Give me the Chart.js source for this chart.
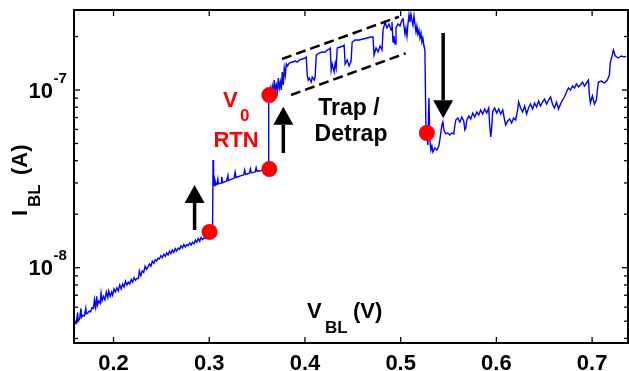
<!DOCTYPE html>
<html><head><meta charset="utf-8">
<script src="https://cdn.jsdelivr.net/npm/chart.js@4/dist/chart.umd.min.js"></script>
<style>html,body{margin:0;padding:0;background:#fff}canvas{display:block}</style>
</head><body>
<canvas id="c" width="629" height="371"></canvas>
<script>
// ---- tick labels ----
const xTicks = [0.2, 0.3, 0.4, 0.5, 0.6, 0.7];
const xTickLabels = ['0.2', '0.3', '0.4', '0.5', '0.6', '0.7'];
const yDecades = [1e-8, 1e-7];
const yDecadeExps = ['-8', '-7'];
const yMinorMantissas = [2, 3, 4, 5, 6, 7, 8, 9];

// ---- measured trace: [V_BL (V), I_BL (nA)] ----
const subthreshold = [
 [0.158,4.6],[0.1595,4.9],[0.161,4.85],[0.1625,5.6],[0.163,5.0],[0.1645,5.15],[0.166,5.9],[0.1665,5.25],
 [0.168,5.4],[0.1695,5.35],[0.171,5.9],[0.1715,5.5],[0.173,5.55],[0.1745,5.7],[0.176,5.65],[0.1775,5.95],
 [0.179,5.9],[0.180,6.6],[0.181,6.0],[0.1825,6.9],[0.183,6.1],[0.1845,6.5],[0.186,6.3],[0.187,7.2],
 [0.188,6.5],[0.1895,6.9],[0.191,6.6],[0.1925,7.3],[0.194,6.8],[0.195,7.4],[0.1965,6.9],[0.198,7.3],
 [0.199,7.0],[0.2005,7.6],[0.202,7.3],[0.2035,7.7],[0.205,7.4],[0.2065,8.0],[0.208,7.6],[0.2095,8.1],
 [0.211,7.8],[0.2125,8.4],[0.214,8.0],[0.2155,8.3],[0.217,8.1],[0.2185,8.6],[0.220,8.3],[0.2215,8.8],
 [0.223,8.5],[0.2245,8.7],[0.226,8.7],[0.227,9.6],[0.2285,9.0],[0.230,9.6],[0.2315,9.4],[0.233,10.2],
 [0.2345,9.8],[0.236,10.1],[0.2375,10.5],[0.239,10.2],[0.2405,10.9],[0.242,10.6],[0.2435,11.1],[0.245,10.9],
 [0.2465,11.3],[0.248,11.2],[0.2495,11.7],[0.251,11.4],[0.2525,11.9],[0.254,11.6],[0.2555,12.1],[0.257,11.8],
 [0.2585,12.4],[0.260,12.0],[0.2615,12.6],[0.263,12.2],[0.2645,12.8],[0.266,12.4],[0.2675,12.9],[0.269,12.7],
 [0.2705,13.3],[0.272,12.9],[0.2735,13.5],[0.275,13.1],[0.2765,13.5],[0.278,13.3],[0.2795,13.8],[0.281,13.4],
 [0.2825,13.9],[0.284,13.6],[0.2855,14.3],[0.287,13.9],[0.2885,14.6],[0.290,14.1],[0.2915,14.8],[0.293,14.4],
 [0.2945,14.7],[0.296,14.6],[0.2975,15.1],[0.299,14.9],[0.3005,15.3],[0.302,15.6],[0.3035,17.0]
];
const afterFirstJump = [
 [0.304,40.4],[0.3045,29.0],[0.305,29.0],[0.306,31.0],[0.307,29.3],[0.308,29.5],[0.309,31.5],[0.3095,29.6],
 [0.311,29.8],[0.3125,30.0],[0.313,32.5],[0.314,30.1],[0.316,30.4],[0.318,30.7],[0.3195,33.0],[0.320,30.9],
 [0.322,31.3],[0.324,31.6],[0.326,31.9],[0.327,34.5],[0.328,32.2],[0.330,32.5],[0.332,32.8],[0.334,33.1],
 [0.336,33.3],[0.337,35.5],[0.338,33.5],[0.340,33.8],[0.342,34.0],[0.343,36.0],[0.344,34.2],[0.346,34.4],
 [0.348,34.6],[0.349,36.5],[0.350,34.8],[0.352,35.0],[0.354,35.2],[0.356,35.4],[0.358,35.5],[0.360,35.6],
 [0.3615,35.7],[0.362,60],[0.3622,92]
];
const rtnRegion = [
 [0.3628,96.2],[0.3638,102.6],[0.3649,93.7],[0.3659,105.3],[0.3670,97.4],[0.3680,113.8],[0.3690,100],[0.3701,106.7],
 [0.3711,97.4],[0.3722,116.8],[0.3732,102.6],[0.3743,110.9],[0.3753,100],[0.3763,126.3],[0.3774,106.7],[0.3784,133.0],
 [0.3795,121.4],[0.3805,140.1],[0.3816,136.5],[0.3836,141.9],[0.3868,143.7],[0.3899,145.6],[0.3920,143.7],[0.3941,147.5],
 [0.3972,149.4],[0.4003,151.4],[0.4013,153.3],[0.4024,121.4],[0.4034,113.8],[0.4045,116.8],[0.4066,110.9],[0.4076,118.3],
 [0.4097,113.8],[0.4107,119.9],[0.4118,157.4],[0.4149,161.5],[0.4180,163.6],[0.4211,163.6],[0.4232,167.9],[0.4253,170.1],
 [0.4264,172.3],[0.4274,129.6],[0.4284,140.1],[0.4305,126.3],[0.4316,141.9],[0.4326,133.0],[0.4337,172.3],[0.4368,174.6],
 [0.4399,176.8],[0.4409,179.1],[0.4420,140.1],[0.4441,147.5],[0.4461,136.5],[0.4482,145.6],[0.4493,186.2],[0.4524,191.1],
 [0.4566,191.1],[0.4607,193.7],[0.4649,196.2],[0.4691,198.7],[0.4711,198.7],[0.4722,157.4],[0.4743,172.3],[0.4764,163.6],
 [0.4784,176.8],[0.4805,167.9],[0.4816,217.6],[0.4837,241.3],[0.4857,223.3],[0.4878,235.1],[0.4899,217.6],[0.4909,241.3],
 [0.4920,186.2],[0.4930,201.3],[0.4941,181.5],[0.4951,223.3],[0.4972,235.1],[0.4993,229.1],[0.5014,247.6],[0.5024,254.1],
 [0.5034,229.1],[0.5045,206.6],[0.5055,223.3],[0.5066,201.3],[0.5076,235.1],[0.5087,264.2],[0.5097,241.3],[0.5107,267.7],
 [0.5118,247.6],[0.5128,232.1],[0.5139,260.8],[0.5149,235.1],[0.5160,212.0],[0.5170,229.1],[0.5180,206.6],[0.5191,217.6],
 [0.5201,196.2],[0.5212,209.3],[0.5222,186.2],[0.5232,196.2],[0.5243,176.8],[0.5253,167.9]
];
const afterDrop = [
 [0.5264,61.1],[0.5274,57.3],[0.5284,49.0],[0.5295,90.2],[0.5305,52.3],[0.5316,45.9],[0.5326,48.4],[0.5336,44.8],
 [0.5357,47.2],[0.5378,45.9],[0.5399,48.4],[0.5409,52.3],[0.5430,63.5],[0.5441,66.1],[0.5451,59.6],[0.5472,56.6],
 [0.5493,57.3],[0.5513,55.8],[0.5534,57.3],[0.5555,56.6],[0.5566,63.5],[0.5576,67.8],[0.5597,69.6],[0.5618,66.1],
 [0.5639,70.5],[0.5659,66.9],[0.5670,59.6],[0.5680,61.1],[0.5691,67.8],[0.5712,71.4],[0.5732,68.7],[0.5753,74.2],
 [0.5774,70.5],[0.5795,75.2],[0.5816,72.3],[0.5836,77.2],[0.5857,73.3],[0.5878,78.2],[0.5899,74.2],[0.5920,79.2],
 [0.5930,63.5],[0.5941,54.4],[0.5951,61.1],[0.5961,75.2],[0.5982,79.2],[0.6003,74.2],[0.6024,78.2],[0.6045,73.3],
 [0.6066,77.2],[0.6086,67.8],[0.6097,63.5],[0.6118,66.9],[0.6139,68.7],[0.6159,65.2],[0.6180,69.6],[0.6201,67.8],
 [0.6222,77.2],[0.6232,85.6],[0.6253,79.2],[0.6274,75.2],[0.6295,81.3],[0.6316,73.3],[0.6336,79.2],[0.6357,83.4],
 [0.6378,78.2],[0.6399,84.5],[0.6420,80.2],[0.6441,86.7],[0.6461,81.3],[0.6482,85.6],[0.6503,89.0],[0.6524,83.4],
 [0.6545,87.8],[0.6566,91.3],[0.6586,83.4],[0.6607,79.2],[0.6628,85.6],[0.6649,78.2],[0.6670,83.4],[0.6691,87.8],
 [0.6711,91.3],[0.6732,97.4],[0.6753,102.6],[0.6774,100],[0.6795,105.3],[0.6816,102.6],[0.6836,108.1],[0.6857,104],
 [0.6878,106.7],[0.6899,110.9],[0.6920,105.3],[0.6941,109.5],[0.6961,113.8],[0.6972,93.7],[0.6982,84.5],[0.7003,92.5],
 [0.7024,83.4],[0.7045,87.8],[0.7055,100],[0.7066,110.9],[0.7097,112.3],[0.7128,109.5],[0.7159,113.8],[0.7180,121.4],
 [0.7191,143.7],[0.7211,157.4],[0.7222,167.9],[0.7243,155.3],[0.7274,151.4],[0.7305,155.3],[0.7336,153.3],[0.7357,155.3]
];

// ---- annotations in data units ----
const markers = [[0.3003,15.9],[0.3628,35.9],[0.3628,93.7],[0.5274,57.3]];   // red dots (V, nA)
const trapUpper = [[0.3760,149.4],[0.4982,258.5]];                          // dashed band (V, nA)
const trapLower = [[0.3854,93.7],[0.5052,160.9]];
const arrows = [[0.2847,16.3,29.2],[0.3774,44.2,80.5],[0.5444,209.3,69.3]];  // V, tail nA, tip nA

const nA = 1e-9;
const toPts = arr => arr.map(p => ({x: p[0], y: p[1] * nA}));
const trace = toPts([...subthreshold, ...afterFirstJump, ...rtnRegion, ...afterDrop]);

const FONT = '"Liberation Sans", Arial, Helvetica, sans-serif';

const deco = {
  id: 'deco',
  afterDraw(chart) {
    const {ctx, chartArea: a, scales: {x, y}} = chart;
    ctx.save();
    const line = (x1, y1, x2, y2) => { ctx.beginPath(); ctx.moveTo(x1, y1); ctx.lineTo(x2, y2); ctx.stroke(); };
    ctx.strokeStyle = '#000'; ctx.fillStyle = '#000';
    // frame
    ctx.lineWidth = 2;
    ctx.strokeRect(a.left, a.top, a.right - a.left, a.bottom - a.top);
    // x ticks and labels
    ctx.lineWidth = 1.3;
    ctx.font = 'bold 22px ' + FONT;
    ctx.textAlign = 'center'; ctx.textBaseline = 'alphabetic';
    xTicks.forEach((v, i) => {
      const px = x.getPixelForValue(v);
      line(px, a.bottom, px, a.bottom - 6);
      line(px, a.top, px, a.top + 6);
      ctx.fillText(xTickLabels[i], px, 370);
    });
    // y ticks
    yDecades.forEach(d => {
      const py = y.getPixelForValue(d);
      line(a.left, py, a.left + 6, py);
      line(a.right, py, a.right - 6, py);
    });
    [1e-9, 1e-8, 1e-7].forEach(d => yMinorMantissas.forEach(m => {
      const v = m * d;
      if (v < y.min || v > y.max) return;
      const py = y.getPixelForValue(v);
      line(a.left, py, a.left + 4, py);
      line(a.right, py, a.right - 4, py);
    }));
    // y labels 10^n
    yDecades.forEach((d, i) => {
      const py = y.getPixelForValue(d);
      ctx.font = 'bold 22px ' + FONT; ctx.textAlign = 'right';
      ctx.fillText('10', 53, py + 7.5);
      ctx.font = 'bold 15px ' + FONT; ctx.textAlign = 'left';
      ctx.fillText(yDecadeExps[i], 53.5, py - 7.5);
    });
    // x title
    ctx.textAlign = 'left';
    ctx.font = 'bold 22px ' + FONT; ctx.fillText('V', 307, 318);
    ctx.font = 'bold 17px ' + FONT; ctx.fillText('BL', 325, 333);
    ctx.font = 'bold 22px ' + FONT; ctx.fillText('(V)', 353, 318);
    // y title
    ctx.save();
    ctx.translate(27, 216); ctx.rotate(-Math.PI / 2);
    ctx.font = 'bold 22px ' + FONT; ctx.fillText('I', 0, 0);
    ctx.font = 'bold 17px ' + FONT; ctx.fillText('BL', 9, 13);
    ctx.font = 'bold 22px ' + FONT; ctx.fillText('(A)', 41, 0);
    ctx.restore();
    // arrows
    arrows.forEach(([v, from, to]) => {
      const px = x.getPixelForValue(v);
      const p1 = y.getPixelForValue(from * nA), p2 = y.getPixelForValue(to * nA);
      const dir = Math.sign(p2 - p1), head = 18, hw = 10;
      ctx.lineWidth = 3.5;
      line(px, p1, px, p2 - dir * head);
      ctx.beginPath();
      ctx.moveTo(px, p2); ctx.lineTo(px - hw, p2 - dir * head); ctx.lineTo(px + hw, p2 - dir * head);
      ctx.closePath(); ctx.fill();
    });
    // red annotations
    ctx.fillStyle = '#ff0000';
    ctx.font = 'bold 22px ' + FONT; ctx.textAlign = 'left';
    ctx.fillText('V', 223, 107);
    ctx.font = 'bold 17px ' + FONT; ctx.fillText('0', 240, 121);
    ctx.font = 'bold 22px ' + FONT; ctx.textAlign = 'center';
    ctx.fillText('RTN', 236, 147);
    // black annotations
    ctx.fillStyle = '#000';
    ctx.font = 'bold 23px ' + FONT;
    ctx.fillText('Trap /', 349, 115);
    ctx.fillText('Detrap', 351, 141);
    ctx.restore();
  }
};

new Chart(document.getElementById('c'), {
  type: 'scatter',
  data: {
    datasets: [
      {data: toPts(markers), showLine: false, pointRadius: 8, pointHoverRadius: 8,
       pointBackgroundColor: '#ff0000', pointBorderWidth: 0, order: 0},
      {data: toPts(trapUpper), showLine: true, borderColor: '#000', borderWidth: 2.5,
       borderDash: [10, 5], pointRadius: 0, order: 1},
      {data: toPts(trapLower), showLine: true, borderColor: '#000', borderWidth: 2.5,
       borderDash: [10, 5], pointRadius: 0, order: 1},
      {data: trace, showLine: true, borderColor: '#0000ff', borderWidth: 1.4,
       pointRadius: 0, tension: 0, order: 2}
    ]
  },
  options: {
    responsive: false,
    animation: false,
    events: [],
    layout: {autoPadding: false, padding: {left: 74, top: 10, right: 1, bottom: 28}},
    plugins: {legend: {display: false}, tooltip: {enabled: false}},
    scales: {
      x: {type: 'linear', min: 0.1587, max: 0.7375, display: false},
      y: {type: 'logarithmic', min: 3.77e-9, max: 2.82e-7, display: false}
    }
  },
  plugins: [deco]
});
</script>
</body></html>
